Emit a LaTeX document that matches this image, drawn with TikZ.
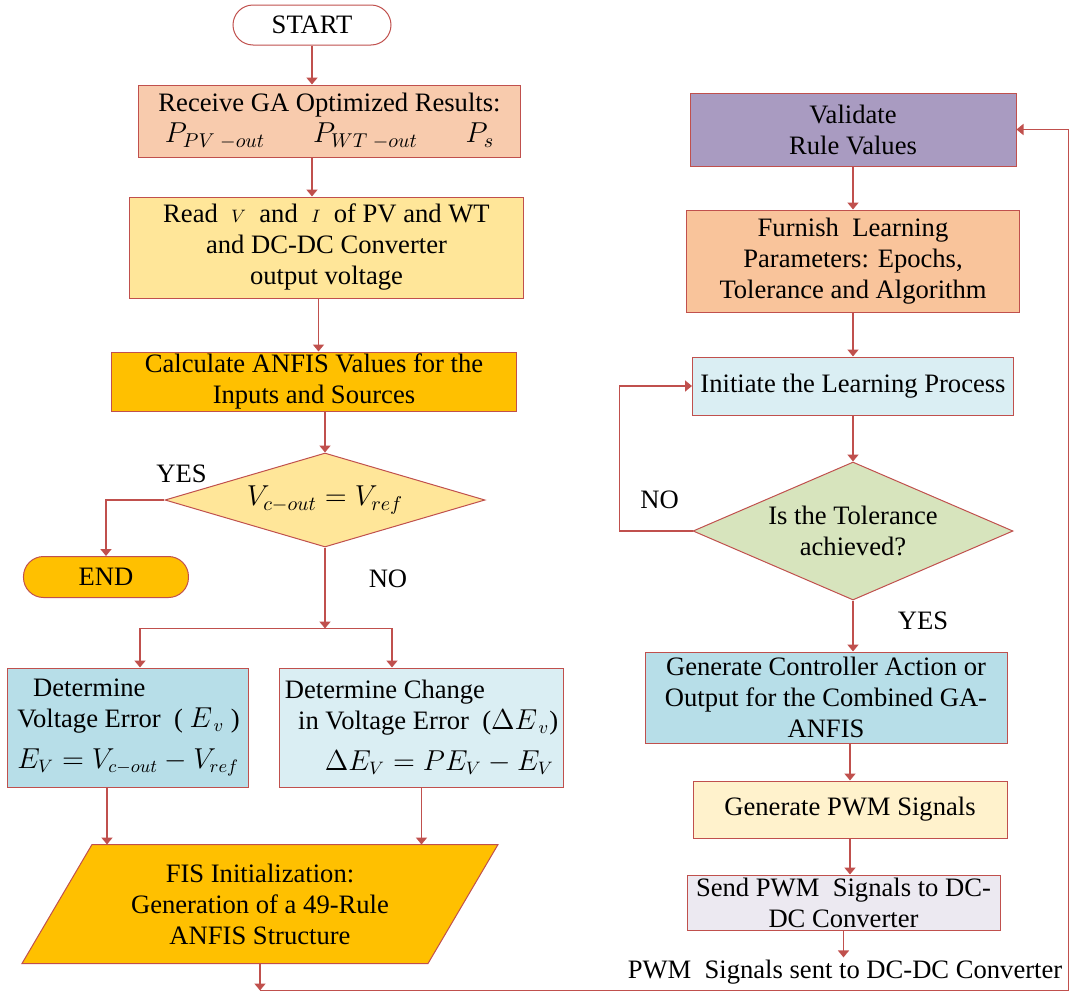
\documentclass[tikz,border=0pt]{standalone}
\usepackage{fontspec}
\setmainfont{Liberation Serif}
\usepackage{xcolor}
\usetikzlibrary{arrows.meta,shapes.geometric,backgrounds}

\definecolor{linered}{HTML}{C0504D}
\definecolor{recvpeach}{HTML}{F8CBAD}
\definecolor{readgold}{HTML}{FFE699}
\definecolor{calcorange}{HTML}{FFC000}
\definecolor{errblue}{HTML}{B7DEE8}
\definecolor{paleblue}{HTML}{DAEEF3}
\definecolor{rulepurple}{HTML}{A99BC1}
\definecolor{furnorange}{HTML}{F9C49B}
\definecolor{tolgreen}{HTML}{D7E4BD}
\definecolor{pwmcream}{HTML}{FFF2CC}
\definecolor{sendlilac}{HTML}{ECE9F1}

\begin{document}
\begin{tikzpicture}[->,>={Triangle[width=5.5pt,length=3.5pt]},line width=0.9pt,
    every node/.style={font=\fontsize{13.3}{15.5}\selectfont,text=black,line width=0.5pt},
    block/.style={rectangle,draw=linered,inner sep=0pt,align=center},
    term/.style={block,rounded corners=10pt},
    decision/.style={diamond,draw=linered,inner sep=0pt,align=center},
    wire/.style={draw=linered,line width=0.9pt},
    lbl/.style={inner sep=1pt}]
  \useasboundingbox (-156pt,12.5pt) rectangle (379pt,-485.5pt);

  % left column: GA results down to the FIS
  \node[term,fill=white,minimum width=79pt,minimum height=20pt] (start) {START};
  \node[block,fill=recvpeach,minimum width=190.5pt,minimum height=36pt] (recv)
    [node distance=48pt,below of=start,xshift=8.75pt]
    {Receive GA Optimized Results:\\
     {\Large$P_{PV\;-out}$}\hspace{1.8em}{\Large$P_{WT\;-out}$}\hspace{1.8em}{\Large$P_s$}};
  \node[block,fill=readgold,minimum width=196.5pt,minimum height=50.5pt] (read)
    [node distance=63.25pt,below of=recv,xshift=-1.5pt]
    {Read \ {\small$V$} \ and \ {\small$I$} \ of PV and WT\\ and DC-DC Converter\\ output voltage};
  \node[block,fill=calcorange,minimum width=202pt,minimum height=29.5pt] (calc)
    [node distance=67pt,below of=read,xshift=-6.25pt]
    {Calculate ANFIS Values for the\\ Inputs and Sources};
  \node[decision,fill=readgold,aspect=3.4,minimum width=160pt,minimum height=47pt] (dec1)
    [node distance=59.25pt,below of=calc,xshift=5.5pt]
    {\Large$V_{c-out}=V_{ref}$};
  \node[term,fill=calcorange,minimum width=82.5pt,minimum height=20.5pt] (end)
    [node distance=38.5pt,below of=dec1,xshift=-109.5pt] {END};
  \node[block,fill=errblue,align=left,minimum width=120.5pt,minimum height=59.5pt] (everr)
    [node distance=113.75pt,below of=dec1,xshift=-98.25pt]
    {\hspace*{0.6em}Determine\\ Voltage Error \ ( $E_{\,v}$ )\\[5pt] $E_V=V_{c-out}-V_{ref}$};
  \node[block,fill=paleblue,align=left,minimum width=141.5pt,minimum height=59.5pt] (derr)
    [node distance=146.5pt,right of=everr]
    {Determine Change\\ \hspace*{0.5em}in Voltage Error \ ($\Delta E_{\,v}$)\\[5pt] \hspace*{1.5em}$\Delta E_V=PE_V-E_V$};
  \node[align=center,inner sep=0pt,minimum width=237.5pt,minimum height=59pt] (fis)
    [node distance=88.25pt,below of=everr,xshift=65.75pt]
    {FIS Initialization:\\ Generation of a 49-Rule\\ ANFIS Structure};
  \begin{scope}[on background layer]
    \filldraw[-,draw=linered,fill=calcorange,line width=0.5pt]
      (fis.south west) -- ([xshift=-35pt]fis.south east) -- (fis.north east)
      -- ([xshift=35pt]fis.north west) -- cycle;
  \end{scope}

  % right column: learning loop and PWM output
  \node[block,fill=rulepurple,minimum width=163pt,minimum height=36.5pt] (valid)
    [node distance=261.75pt,right of=recv,yshift=-4.25pt] {Validate\\ Rule Values};
  \node[block,fill=furnorange,minimum width=166.5pt,minimum height=51pt] (furn)
    [node distance=65.75pt,below of=valid]
    {Furnish\ \ Learning\\ Parameters: Epochs,\\ Tolerance and Algorithm};
  \node[block,fill=paleblue,minimum width=160.5pt,minimum height=29pt] (init)
    [node distance=62.5pt,below of=furn] {Initiate the Learning Process};
  \node[decision,fill=tolgreen,aspect=2.32,minimum width=160pt,minimum height=69pt] (dec2)
    [node distance=72.5pt,below of=init] {Is the Tolerance\\ achieved?};
  \node[block,fill=errblue,minimum width=181pt,minimum height=45.5pt] (genc)
    [node distance=83.25pt,below of=dec2,xshift=-13.5pt]
    {Generate Controller Action or\\ Output for the Combined GA-\\ ANFIS};
  \node[block,fill=pwmcream,minimum width=157pt,minimum height=28.5pt] (genp)
    [node distance=56pt,below of=genc,xshift=12pt] {Generate PWM Signals};
  \node[block,fill=sendlilac,minimum width=156.5pt,minimum height=27.5pt] (send)
    [node distance=46.5pt,below of=genp,xshift=-3.25pt]
    {Send PWM\ \ Signals to DC-\\ DC Converter};
  \node[lbl] (sent) [node distance=34.75pt,below of=send,xshift=0.75pt]
    {PWM\ \ Signals sent to DC-DC Converter};

  % branch labels
  \node[lbl] (yes1) at ([xshift=8.5pt,yshift=13pt]dec1.west) {YES};
  \node[lbl] (no1) at ([xshift=31.5pt,yshift=-15.5pt]dec1.south) {NO};
  \node[lbl] (no2) at ([xshift=-16.5pt,yshift=15.5pt]dec2.west) {NO};
  \node[lbl] (yes2) at ([xshift=35pt,yshift=-10pt]dec2.south) {YES};

  \coordinate (split) at ([yshift=-40.5pt]dec1.south);
  \coordinate (loopa) at ([yshift=-13.5pt]fis.south);
  \coordinate (loopb) at ([xshift=26pt]valid.east |- loopa);

  \draw[wire] (start) -- (recv.north -| start);
  \draw[wire] (recv.south -| start) -- (read.north -| start);
  \draw[wire] ([xshift=-4pt]read.south) -- ([xshift=-4pt]read.south |- calc.north);
  \draw[wire] (calc.south -| dec1) -- (dec1.north);
  \draw[wire] (dec1.west) -| (end.north);
  \draw[wire] (dec1.south) -- (split);
  \draw[wire] (split) -| ([xshift=5.75pt]everr.north);
  \draw[wire] (split) -| ([xshift=-14.75pt]derr.north);
  \draw[wire] ([xshift=-10.75pt]everr.south) -- ([xshift=-10.75pt]everr.south |- fis.north);
  \draw[wire] (derr.south) -- (derr.south |- fis.north);
  \draw[wire] (fis.south) -- (loopa);
  \draw[wire] (loopa) -- (loopb) |- (valid.east);

  \draw[wire] (valid) -- (furn);
  \draw[wire] (furn) -- (init);
  \draw[wire] (init) -- (dec2);
  \draw[wire] (dec2.west) -- ++(-36.5pt,0) |- (init.west);
  \draw[wire] (dec2.south) -- (dec2.south |- genc.north);
  \draw[wire] (genp.north |- genc.south) -- (genp.north);
  \draw[wire] (genp.south) -- (genp.south |- send.north);
  \draw[wire] (send.south) -- (send.south |- sent.north);
\end{tikzpicture}
\end{document}
